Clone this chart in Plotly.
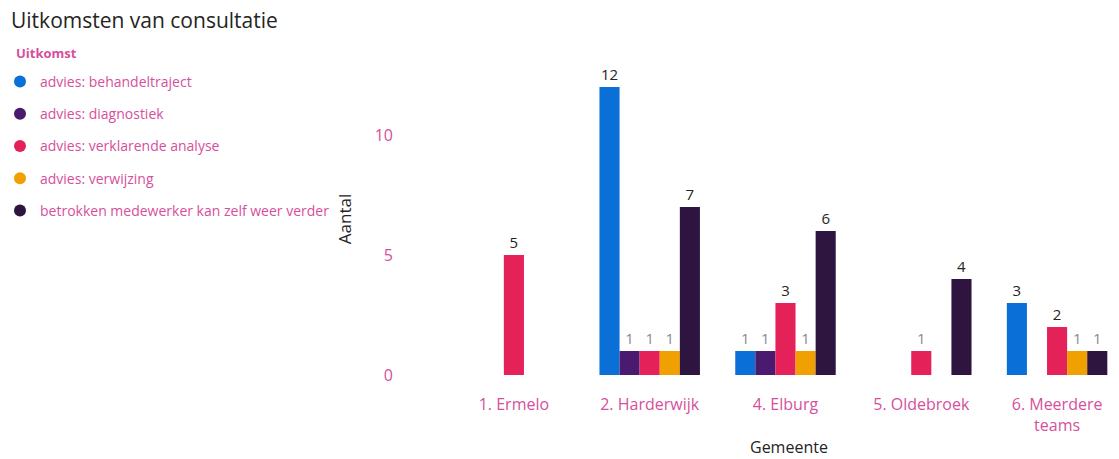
import plotly.graph_objects as go

# Consultation outcomes per municipality
gemeenten = ["1. Ermelo", "2. Harderwijk", "4. Elburg", "5. Oldebroek", "6. Meerdere<br>teams"]
uitkomsten = [
    "advies: behandeltraject",
    "advies: diagnostiek",
    "advies: verklarende analyse",
    "advies: verwijzing",
    "betrokken medewerker kan zelf weer verder",
]
behandeltraject = [None, 12, 1, None, 3]
diagnostiek = [None, 1, 1, None, None]
verklarende_analyse = [5, 1, 3, 1, 2]
verwijzing = [None, 1, 1, None, 1]
zelf_verder = [None, 7, 6, 4, 1]

series = [behandeltraject, diagnostiek, verklarende_analyse, verwijzing, zelf_verder]
colors = ["#0a6fd6", "#4a1a6e", "#e5215a", "#f0a000", "#2d1540"]

PINK = "#d64f9c"
FONT = "Open Sans"
L, W = 445, 674  # plot area left edge and width in px

fig = go.Figure()
for name, vals, col in zip(uitkomsten, series, colors):
    fig.add_trace(go.Bar(
        x=gemeenten, y=vals, name=name, marker_color=col, marker_line_width=0,
        text=[("" if v is None else str(v)) for v in vals],
        textposition="outside", cliponaxis=False,
        textfont=dict(family=FONT, size=15,
                      color=[("#8a8a8a" if v == 1 else "#252423") for v in vals]),
        showlegend=False,
    ))
    # circle markers for the legend entries
    fig.add_trace(go.Scatter(
        x=[None], y=[None], mode="markers", name=name, legendgroup=name,
        marker=dict(symbol="circle", size=12, color=col),
    ))

fig.add_annotation(
    text="<b>Uitkomst</b>", xref="paper", yref="paper",
    x=(12 - L) / W, xanchor="left", y=1 + (63 - 53) / 312, yanchor="middle",
    showarrow=False, font=dict(family=FONT, size=13, color=PINK),
)
fig.add_annotation(
    text="Gemeente", xref="paper", yref="paper",
    x=(789 - L) / W, xanchor="center", y=-(447 - 375) / 312, yanchor="middle",
    showarrow=False, font=dict(family=FONT, size=16, color="#252423"),
)

fig.update_layout(
    width=1119, height=459,
    margin=dict(l=L, r=0, t=63, b=84),
    paper_bgcolor="white", plot_bgcolor="white",
    font=dict(family=FONT),
    barmode="group", bargap=0.26, bargroupgap=0.0,
    title=dict(text="Uitkomsten van consultatie", x=11 / 1119, xanchor="left",
               y=1 - 21 / 459, yanchor="middle", xref="container", yref="container",
               font=dict(family=FONT, size=21, color="#252423")),
    legend=dict(
        font=dict(family=FONT, size=14, color=PINK),
        xref="paper", yref="paper",
        x=(-2 - L) / W, y=1 + (63 - 66) / 312, xanchor="left", yanchor="top",
        tracegroupgap=11, itemwidth=30, bgcolor="rgba(0,0,0,0)",
    ),
    xaxis=dict(
        range=[-0.5, 4.456], showgrid=False, zeroline=False, showline=False,
        ticks="", tickfont=dict(family=FONT, size=16, color=PINK),
        ticklabelstandoff=18, automargin=False,
    ),
    yaxis=dict(
        range=[0, 13], tickvals=[0, 5, 10], showgrid=False, zeroline=False, showline=False,
        ticks="", tickfont=dict(family=FONT, size=16, color=PINK),
        ticklabelstandoff=52, automargin=False,
        title=dict(text="Aantal", font=dict(family=FONT, size=17, color="#252423"), standoff=18),
    ),
)

fig.write_html("out.html")
